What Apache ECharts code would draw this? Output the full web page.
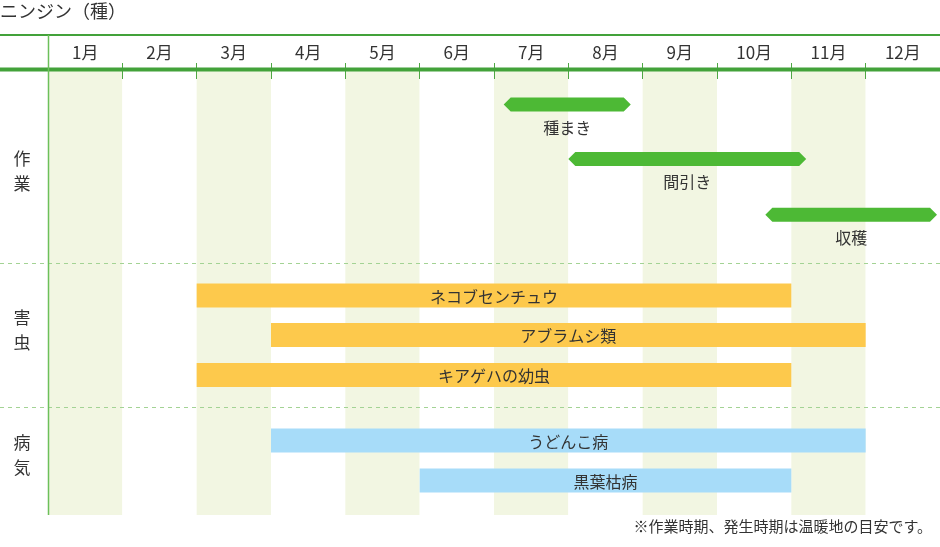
<!DOCTYPE html>
<html><head><meta charset="utf-8">
<script src="https://cdn.jsdelivr.net/npm/echarts@6/dist/echarts.min.js"></script>
<style>html,body{margin:0;padding:0;background:#fff}#c{width:940px;height:547px}</style>
</head><body><div id="c"></div>
<script>
// ---- data ----
const months = ['1月','2月','3月','4月','5月','6月','7月','8月','9月','10月','11月','12月'];
const tasks = ['種まき','間引き','収穫'];
const taskStart = [6.13, 7.0, 9.65];
const taskEnd = [7.84, 10.2, 11.96];
const pests = ['ネコブセンチュウ','アブラムシ類','キアゲハの幼虫'];
const pestStart = [2, 3, 2];
const pestEnd = [10, 11, 10];
const diseases = ['うどんこ病','黒葉枯病'];
const diseaseStart = [3, 5];
const diseaseEnd = [11, 10];
const sections = ['作業','害虫','病気'];
const titleText = 'ニンジン（種）';
const noteText = '※作業時期、発生時期は温暖地の目安です。';

// ---- layout (row centers in grid pixel units) ----
const GRID_TOP = 71, GRID_BOTTOM_Y = 515;
const rowY = [33.5, 88, 143.8, 224.5, 264, 304, 369.5, 409.5];
const FONT = '"Noto Sans CJK JP","Noto Sans",sans-serif';

const items = [];
let r = 0;
tasks.forEach((n,i)=>items.push({name:n, value:[taskStart[i], taskEnd[i], r++, 0]}));
pests.forEach((n,i)=>items.push({name:n, value:[pestStart[i], pestEnd[i], r++, 1]}));
diseases.forEach((n,i)=>items.push({name:n, value:[diseaseStart[i], diseaseEnd[i], r++, 2]}));

const colors = ['#4db935', '#fdc94c', '#a7dcf9'];

function renderItem(params, api) {
  const s = api.value(0), e = api.value(1), row = api.value(2), kind = api.value(3);
  const p0 = api.coord([s, rowY[row]]);
  const p1 = api.coord([e, rowY[row]]);
  const name = items[params.dataIndex].name;
  const y = p0[1], x0 = p0[0], x1 = p1[0];
  if (kind === 0) {
    const h = 7, t = 7;
    return {type:'group', children:[
      {type:'polygon', shape:{points:[[x0,y],[x0+t,y-h],[x1-t,y-h],[x1,y],[x1-t,y+h],[x0+t,y+h]]},
       style:{fill:colors[0]}},
      {type:'text', x:(x0+x1)/2, y:y+23, style:{text:name, fill:'#333', font:'16px '+FONT, align:'center', verticalAlign:'middle'}}
    ]};
  }
  const h = 24;
  return {type:'group', children:[
    {type:'rect', shape:{x:x0, y:y-h/2, width:x1-x0, height:h}, style:{fill:colors[kind]}},
    {type:'text', x:(x0+x1)/2, y:y+1, style:{text:name, fill:'#333', font:'16px '+FONT, align:'center', verticalAlign:'middle'}}
  ]};
}

const chart = echarts.init(document.getElementById('c'), null, {renderer:'canvas'});
const lineGreen = '#43a23a';
const graphics = [
  {type:'line', shape:{x1:0,y1:35,x2:940,y2:35}, style:{stroke:lineGreen, lineWidth:2}, z:10},
  {type:'line', shape:{x1:0,y1:69.5,x2:940,y2:69.5}, style:{stroke:lineGreen, lineWidth:4}, z:10},
  {type:'line', shape:{x1:48.5,y1:35,x2:48.5,y2:GRID_BOTTOM_Y}, style:{stroke:'#6cc05a', lineWidth:1.5}, z:10},
  {type:'line', shape:{x1:0,y1:263.5,x2:940,y2:263.5}, style:{stroke:'#a3d394', lineWidth:1, lineDash:[4,4]}, z:1},
  {type:'line', shape:{x1:0,y1:407.5,x2:940,y2:407.5}, style:{stroke:'#a3d394', lineWidth:1, lineDash:[4,4]}, z:1},
  {type:'text', left:0, top:2, style:{text:titleText, fill:'#333', font:'18px '+FONT}},
  {type:'text', right:8, top:519, style:{text:noteText, fill:'#333', font:'15px '+FONT}}
];
const secY = [171, 330, 455];
sections.forEach((s,i)=>{
  graphics.push({type:'text', x:22, y:secY[i], style:{text:s.split('').join('\n'), fill:'#333', font:'17px '+FONT, align:'center', verticalAlign:'middle', lineHeight:25}});
});

chart.setOption({
  animation:false,
  textStyle:{fontFamily:FONT},
  grid:{left:48, right:0, top:GRID_TOP, bottom:547-GRID_BOTTOM_Y},
  xAxis:[
    {type:'value', min:0, max:12, interval:1, position:'top',
     axisLine:{show:false}, axisLabel:{show:false},
     axisTick:{show:true, length:8, lineStyle:{color:'#4fa744', width:1}},
     splitLine:{show:false},
     splitArea:{show:true, areaStyle:{color:['#f2f6e2','#ffffff']}}},
    {type:'value', min:0, max:12, interval:1, position:'top', gridIndex:0,
     axisLine:{show:false}, axisLabel:{show:false},
     axisTick:{show:true, inside:true, length:8, lineStyle:{color:'#4fa744', width:1}},
     splitLine:{show:false}},
    {type:'category', data:months, position:'top', boundaryGap:true,
     axisLine:{show:false}, axisTick:{show:false},
     axisLabel:{color:'#333', fontSize:17, margin:10, fontFamily:FONT}}
  ],
  yAxis:{type:'value', min:0, max:GRID_BOTTOM_Y-GRID_TOP, inverse:true, show:false},
  graphic:graphics,
  series:[{type:'custom', renderItem:renderItem, xAxisIndex:0, yAxisIndex:0,
    encode:{x:[0,1], y:2}, data:items, z:5, clip:false}]
});
</script></body></html>
